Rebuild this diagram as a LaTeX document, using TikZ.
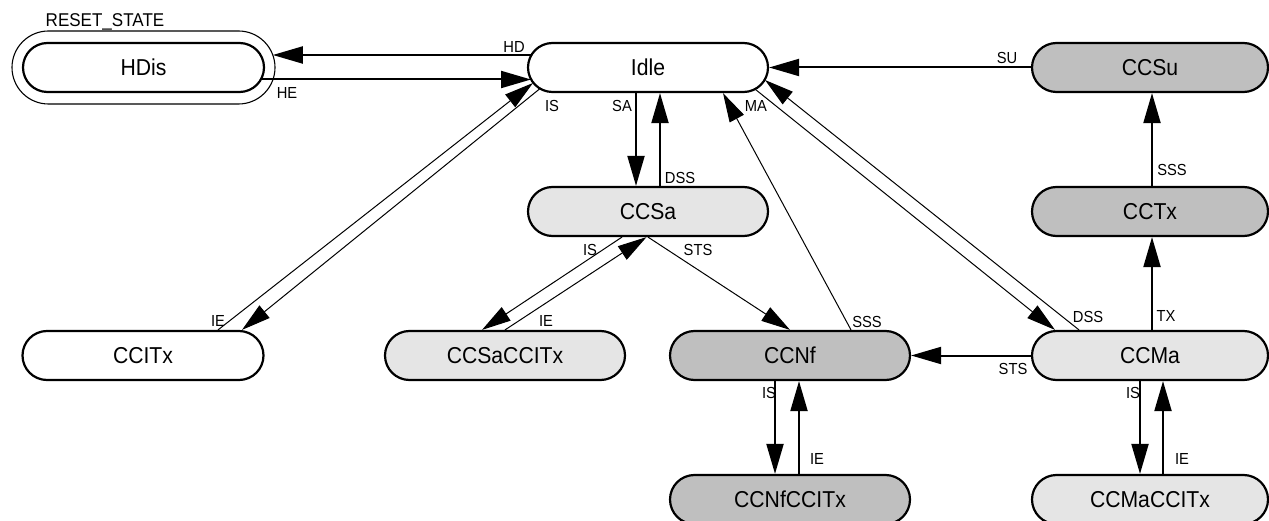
\documentclass[tikz,border=0pt]{standalone}
\usepackage{fontspec}
\setmainfont{Liberation Sans}[FakeStretch=0.92]
\usetikzlibrary{arrows.meta,calc}
\definecolor{lgray}{HTML}{E5E5E5}
\definecolor{dgray}{HTML}{BFBFBF}
\begin{document}
\begin{tikzpicture}[x=1pt,y=-1pt,
  state/.style={draw,line width=2.2pt,rounded corners=24.5pt,minimum width=240pt,minimum height=49pt,inner sep=0pt,font=\fontsize{23}{26}\selectfont},
  lab/.style={inner sep=0pt,font=\fontsize{16}{18}\selectfont},
  tarr/.style={line width=2pt,-{Triangle[length=30pt,width=17pt]}},
  narr/.style={line width=1pt,-{Triangle[length=29pt,width=16pt]}},
  plainline/.style={line width=2pt}]
\useasboundingbox (0,0) rectangle (1269,521);
% states
\node[state,fill=white,minimum width=241pt] (HDis) at (143.5,67.5) {HDis};
\node[draw,line width=1.1pt,rounded corners=36.5pt,minimum width=263pt,minimum height=73pt,inner sep=0pt] (ring) at (143.5,67.5) {};
\node[inner sep=0pt,font=\fontsize{18.5}{20}\selectfont] (rs) at (105,21.5) {RESET\_STATE};
\node[state,fill=white] (Idle) at (648,67.5) {Idle};
\node[state,fill=dgray,minimum width=236pt] (CCSu) at (1150,67.5) {CCSu};
\node[state,fill=lgray] (CCSa) at (648,211.5) {CCSa};
\node[state,fill=dgray,minimum width=236pt] (CCTx) at (1150,211.5) {CCTx};
\node[state,fill=white,minimum width=241pt] (CCITx) at (143,355.5) {CCITx};
\node[state,fill=lgray] (CCSaCCITx) at (505,355.5) {CCSaCCITx};
\node[state,fill=dgray] (CCNf) at (790,355.5) {CCNf};
\node[state,fill=lgray,minimum width=236pt] (CCMa) at (1150,355.5) {CCMa};
\node[state,fill=dgray] (CCNfCCITx) at (790,499.5) {CCNfCCITx};
\node[state,fill=lgray,minimum width=236pt] (CCMaCCITx) at (1150,499.5) {CCMaCCITx};
% connectors
\draw[tarr] ([shift={(-116.6,-12.5)}]Idle.center) -- ([shift={(129.3,-12.5)}]ring.center);
\draw[tarr] ([shift={(117.5,12)}]HDis.center) -- ([shift={(-117,12)}]Idle.center);
\draw[narr] ([xshift=75pt]CCITx.north) -- ([shift={(-115,15.5)}]Idle.center);
\draw[narr] ([shift={(-108,21.1)}]Idle.center) -- ([xshift=99pt]CCITx.north);
\draw[tarr] ([xshift=-12pt]Idle.south) -- ([xshift=-12pt]CCSa.north);
\draw[tarr] ([xshift=12pt]CCSa.north) -- ([xshift=12pt]Idle.south);
\draw[narr] ([xshift=-26pt]CCSa.south) -- ([xshift=-23pt]CCSaCCITx.north);
\draw[narr] (CCSaCCITx.north) -- ([xshift=-1.5pt]CCSa.south);
\draw[narr] (CCSa.south) -- (CCNf.north);
\draw[narr] ([xshift=61pt]CCNf.north) -- ([xshift=75pt]Idle.south);
\draw[narr] ([shift={(107,21.6)}]Idle.center) -- ([xshift=-95pt]CCMa.north);
\draw[narr] ([xshift=-71pt]CCMa.north) -- ([shift={(117,12.5)}]Idle.center);
\draw[tarr] (CCSu.west) -- (Idle.east);
\draw[tarr] ([xshift=2pt]CCTx.north) -- ([xshift=2pt]CCSu.south);
\draw[tarr] ([xshift=2pt]CCMa.north) -- ([xshift=2pt]CCTx.south);
\draw[tarr] (CCMa.west) -- (CCNf.east);
\draw[tarr] ([xshift=-15pt]CCNf.south) -- ([xshift=-15pt]CCNfCCITx.north);
\draw[tarr] ([xshift=9pt]CCNfCCITx.north) -- ([xshift=9pt]CCNf.south);
\draw[tarr] ([xshift=-10pt]CCMa.south) -- ([xshift=-10pt]CCMaCCITx.north);
\draw[tarr] ([xshift=13pt]CCMaCCITx.north) -- ([xshift=13pt]CCMa.south);
% labels
\node[lab] (lHD) at (514,47) {HD};
\node[lab] (lHE) at (287,93) {HE};
\node[lab] (lIS1) at (552,106) {IS};
\node[lab] (lSA) at (622,106) {SA};
\node[lab] (lMA) at (756,106) {MA};
\node[lab] (lDSS1) at (680,178) {DSS};
\node[lab] (lSU) at (1007,58) {SU};
\node[lab] (lSSS1) at (1172,170) {SSS};
\node[lab] (lIS2) at (590,250) {IS};
\node[lab] (lSTS1) at (698,250) {STS};
\node[lab] (lIE2) at (546,321) {IE};
\node[lab] (lIE1) at (218,321) {IE};
\node[lab] (lSSS2) at (867,322) {SSS};
\node[lab] (lDSS2) at (1088,317) {DSS};
\node[lab] (lTX) at (1166,316) {TX};
\node[lab] (lSTS2) at (1013,369) {STS};
\node[lab] (lIS3) at (1133,393) {IS};
\node[lab] (lIS4) at (769,393) {IS};
\node[lab] (lIE3) at (817,459) {IE};
\node[lab] (lIE4) at (1182,459) {IE};
\end{tikzpicture}
\end{document}
